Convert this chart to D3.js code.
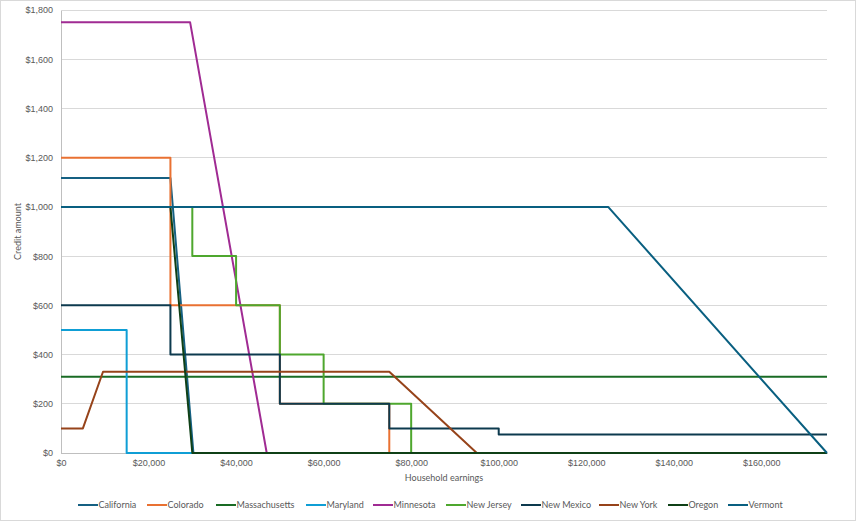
<!DOCTYPE html>
<html>
<head>
<meta charset="utf-8">
<script src="https://cdn.jsdelivr.net/npm/d3@7"></script>
<style>
    body { margin: 0; background: #fff; }
    svg { font-family: Lato, "Open Sans", "Liberation Sans", sans-serif; }
</style>
</head>
<body>
<div id="chart-area"></div>
<script>
// credit amount by household earnings, one array of [earnings, credit] per state
let california = [[0, 1117], [25000, 1117], [30250, 0], [175000, 0]];
let colorado = [[0, 1200], [25000, 1200], [25000, 600], [50000, 600], [50000, 200], [75000, 200], [75000, 0], [175000, 0]];
let massachusetts = [[0, 310], [175000, 310]];
let maryland = [[0, 500], [15000, 500], [15000, 0], [175000, 0]];
let minnesota = [[0, 1750], [29500, 1750], [47000, 0], [175000, 0]];
let newJersey = [[0, 1000], [30000, 1000], [30000, 800], [40000, 800], [40000, 600], [50000, 600], [50000, 400],
    [60000, 400], [60000, 200], [80000, 200], [80000, 0], [175000, 0]];
let newMexico = [[0, 600], [25000, 600], [25000, 400], [50000, 400], [50000, 200], [75000, 200], [75000, 100],
    [100000, 100], [100000, 75], [175000, 75]];
let newYork = [[0, 100], [5000, 100], [9600, 330], [75000, 330], [95000, 0], [175000, 0]];
let oregon = [[0, 1000], [25000, 1000], [30000, 0], [175000, 0]];
let vermont = [[0, 1000], [125000, 1000], [175000, 0]];

let stateNames = ["California", "Colorado", "Massachusetts", "Maryland", "Minnesota",
    "New Jersey", "New Mexico", "New York", "Oregon", "Vermont"];
let stateValues = [california, colorado, massachusetts, maryland, minnesota,
    newJersey, newMexico, newYork, oregon, vermont];
let stateColors = ["#156082", "#e97132", "#196b24", "#0f9ed5", "#a02b93",
    "#4ea72e", "#0d3a4e", "#96431a", "#0f4016", "#095f80"];

let xTicks = [0, 20000, 40000, 60000, 80000, 100000, 120000, 140000, 160000];
let yTicks = [0, 200, 400, 600, 800, 1000, 1200, 1400, 1600, 1800];

let W = 856, H = 521;
let margin = { top: 10, right: 29, bottom: 68, left: 61 };
let width = W - margin.left - margin.right,
    height = H - margin.top - margin.bottom;

let svg = d3.select("#chart-area").append("svg")
    .attr("width", W)
    .attr("height", H);

// outer chart border
svg.append("rect")
    .attr("x", 0.5).attr("y", 0.5)
    .attr("width", W - 1).attr("height", H - 1)
    .attr("fill", "white")
    .attr("stroke", "#d9d9d9");

let g = svg.append("g")
    .attr("transform", "translate(" + margin.left + "," + margin.top + ")");

let x = d3.scaleLinear().domain([0, 175000]).range([0, width]);
let y = d3.scaleLinear().domain([0, 1800]).range([height, 0]);

// gridlines
g.append("g")
    .selectAll("line")
    .data(yTicks.slice(1))
    .enter().append("line")
    .attr("x1", 0).attr("x2", width)
    .attr("y1", d => y(d)).attr("y2", d => y(d))
    .attr("stroke", "#d9d9d9")
    .attr("stroke-width", 1)
    .attr("shape-rendering", "crispEdges");

let fmt = d3.format("$,");

let yAxis = g.append("g")
    .call(d3.axisLeft(y).tickValues(yTicks).tickFormat(fmt).tickSize(0).tickPadding(8));
let xAxis = g.append("g")
    .attr("transform", "translate(0," + height + ")")
    .call(d3.axisBottom(x).tickValues(xTicks).tickFormat(fmt).tickSize(0).tickPadding(7));

[xAxis, yAxis].forEach(ax => {
    ax.select(".domain").attr("stroke", "#bfbfbf").attr("shape-rendering", "crispEdges");
    ax.selectAll("text").attr("fill", "#595959").style("font-size", "9px");
});

// lines
let line = d3.line()
    .x(d => x(d[0]))
    .y(d => y(d[1]));

g.append("g")
    .selectAll("path")
    .data(stateValues)
    .enter().append("path")
    .attr("d", line)
    .attr("fill", "none")
    .attr("stroke", (d, i) => stateColors[i])
    .attr("stroke-width", 2)
    .attr("stroke-linejoin", "round");

// axis titles
svg.append("text")
    .attr("x", margin.left + width / 2)
    .attr("y", 481)
    .attr("text-anchor", "middle")
    .attr("fill", "#595959")
    .style("font-size", "9px")
    .text("Household earnings");

svg.append("text")
    .attr("transform", "translate(21," + (margin.top + height / 2) + ") rotate(-90)")
    .attr("text-anchor", "middle")
    .attr("fill", "#595959")
    .style("font-size", "9px")
    .text("Credit amount");

// legend
let legendX = [78, 147, 216, 306, 373, 446, 521, 599, 668, 728];
let legend = svg.append("g");
let item = legend.selectAll("g")
    .data(stateNames)
    .enter().append("g")
    .attr("transform", (d, i) => "translate(" + legendX[i] + ",505)");

item.append("line")
    .attr("x1", 0).attr("x2", 20)
    .attr("stroke", (d, i) => stateColors[i])
    .attr("stroke-width", 2);

item.append("text")
    .attr("x", 20.5)
    .attr("y", 3)
    .attr("fill", "#595959")
    .style("font-size", "9px")
    .text(d => d);
</script>
</body>
</html>
